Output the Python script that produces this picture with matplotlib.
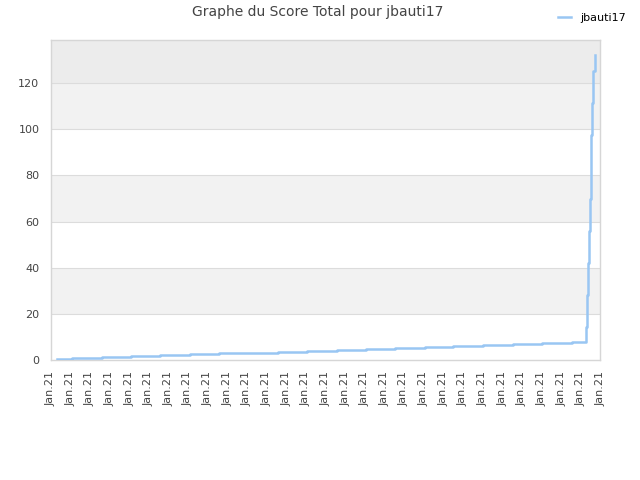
import matplotlib
matplotlib.use("Agg")
import matplotlib.pyplot as plt

# score steps (x in tick units, y = total score)
step_x = [0.33, 1.09, 2.62, 4.10, 5.58, 7.11, 8.58, 10.11, 11.58, 13.06,
          14.59, 16.06, 17.54, 19.07, 20.49, 22.02, 23.55, 25.02, 26.55,
          27.25, 27.30, 27.35, 27.40, 27.45, 27.50, 27.55, 27.58, 27.63, 27.71]
score = [0.3, 0.7, 1.15, 1.6, 2.0, 2.4, 2.9, 3.2, 3.6, 4.0,
         4.5, 4.9, 5.3, 5.8, 6.2, 6.6, 7.1, 7.5, 7.9,
         14.4, 28.2, 41.9, 55.9, 69.6, 83.8, 97.7, 111.5, 125.3, 132.2]
tick_labels = ["Jan.21"] * 29
y_ticks = [0, 20, 40, 60, 80, 100, 120]

player = "jbauti17"
title = "Graphe du Score Total pour " + player

fig = plt.figure(figsize=(6.4, 4.8), dpi=100)
ax = fig.add_axes([0.079, 0.25, 0.859, 0.666])

y_max = 138.6
ax.set_xlim(0, len(tick_labels) - 1)
ax.set_ylim(0, y_max)

# alternating background bands
band_colors = ["#ffffff", "#f2f2f2"]
for i in range(len(y_ticks) - 1):
    ax.axhspan(y_ticks[i], y_ticks[i + 1], color=band_colors[i % 2], zorder=0, lw=0)
ax.axhspan(y_ticks[-1], y_max, color="#ececec", zorder=0, lw=0)

for yv in y_ticks[1:]:
    ax.axhline(yv, color="#dcdcdc", lw=0.8, zorder=1)

ax.plot(step_x, score, drawstyle="steps-post", color="#99c6f3", lw=1.8,
        label=player, zorder=3)

ax.set_xticks(range(len(tick_labels)))
ax.set_xticklabels(tick_labels, rotation=90, fontsize=8, color="#444444")
ax.set_yticks(y_ticks)
ax.set_yticklabels([str(v) for v in y_ticks], fontsize=8, color="#444444")
ax.tick_params(length=0, pad=8)

for sp in ax.spines.values():
    sp.set_color("#d6d6d6")
    sp.set_linewidth(1.0)

fig.text(0.497, 0.975, title, ha="center", va="center", fontsize=10, color="#444444")

fig.legend(loc="upper right", bbox_to_anchor=(0.993, 0.993), frameon=False,
           fontsize=8, handlelength=1.2, handletextpad=0.8)

fig.savefig("out.png", dpi=100)
